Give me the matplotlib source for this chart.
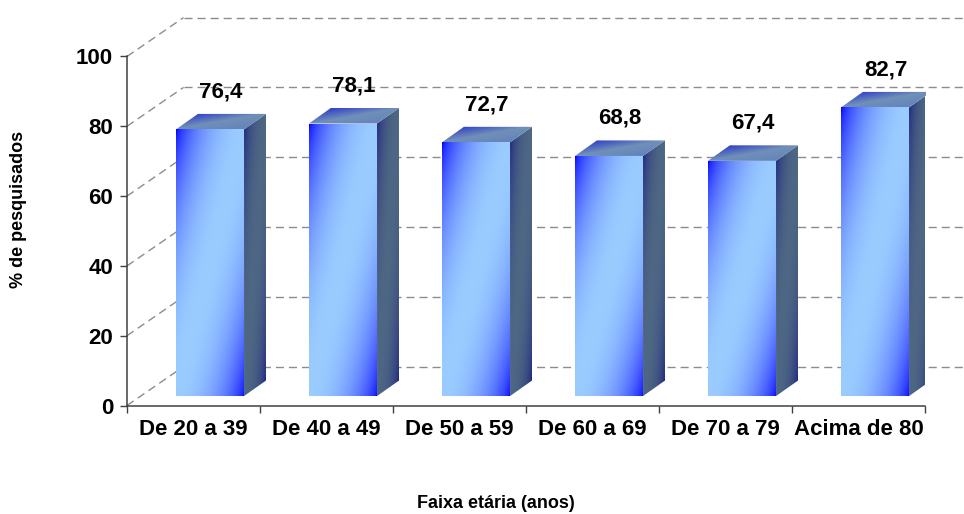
import numpy as np
import matplotlib
matplotlib.use("Agg")
import matplotlib.pyplot as plt
from matplotlib.colors import LinearSegmentedColormap, to_rgb
from matplotlib.patches import Polygon

# ---- data -------------------------------------------------------------
categories = ["De 20 a 39", "De 40 a 49", "De 50 a 59",
              "De 60 a 69", "De 70 a 79", "Acima de 80"]
values = [76.4, 78.1, 72.7, 68.8, 67.4, 82.7]
y_ticks = [0, 20, 40, 60, 80, 100]
y_title = "% de pesquisados"
x_title = "Faixa etária (anos)"

# ---- pseudo-3D geometry (data units) ------------------------------------
WALL_DX, WALL_DY = 0.425, 11.15      # offset of the back wall
BAR_X0, BAR_W = 0.368, 0.512        # bar front face inside a category slot
BAR_BASE = 2.7                      # front face raised by its depth
SIDE_DX, SIDE_DY = 0.165, 4.45      # bar depth

plt.rcParams["font.family"] = ["Liberation Sans", "DejaVu Sans"]
plt.rcParams["lines.scale_dashes"] = False

fig = plt.figure(figsize=(9.64, 5.14), dpi=100)
ax = fig.add_axes([127 / 964, (514 - 405.5) / 514, 798 / 964, 349 / 514])
ax.set_facecolor("none")


def mirrored_cmap(name, edge, mid, power):
    """Edge colour at both ends, centre colour in the middle, eased."""
    e, m = np.array(to_rgb(edge)), np.array(to_rgb(mid))
    ts = np.linspace(0, 1, 65)
    f = np.sin(np.pi * ts) ** power
    cols = [tuple(e + (m - e) * k) for k in f]
    return LinearSegmentedColormap.from_list(name, list(zip(ts, cols)))


front_cmap = mirrored_cmap("front", "#0000ff", "#9accff", 0.6)
side_cmap = mirrored_cmap("side", "#161c80", "#4e6784", 0.5)
top_cmap = LinearSegmentedColormap.from_list("top", [
    (0.0, "#2f3fc8"), (0.5, "#7090b8"), (1.0, "#6383bb")])


def shaded_face(p0, eu, ev, cmap, z):
    """Fill the parallelogram p0 + a*eu + b*ev with a diagonal gradient."""
    p0, eu, ev = map(np.asarray, (p0, eu, ev))
    corners = np.array([p0, p0 + eu, p0 + eu + ev, p0 + ev])
    xmin, ymin = corners.min(axis=0)
    xmax, ymax = corners.max(axis=0)
    n = 220
    gx, gy = np.meshgrid(np.linspace(xmin, xmax, n), np.linspace(ymin, ymax, n))
    m = np.array([[eu[0], ev[0]], [eu[1], ev[1]]])
    inv = np.linalg.inv(m)
    dx, dy = gx - p0[0], gy - p0[1]
    a = np.clip(inv[0, 0] * dx + inv[0, 1] * dy, 0, 1)
    b = np.clip(inv[1, 0] * dx + inv[1, 1] * dy, 0, 1)
    t = (a + (1 - b)) / 2
    rgb = cmap(t)
    im = ax.imshow(rgb, extent=(xmin, xmax, ymin, ymax), origin="lower",
                   aspect="auto", interpolation="bilinear", zorder=z)
    clip = Polygon(corners, closed=True, transform=ax.transData)
    im.set_clip_path(clip)
    im.set_clip_box(None)


# ---- back wall / side wall dashed grid ---------------------------------
grid_kw = dict(color="#8c8c8c", lw=1.0, ls=(0, (5.8, 3.6)), clip_on=False,
               zorder=1)
for v in y_ticks:
    ax.plot([WALL_DX, 6.4], [v + WALL_DY, v + WALL_DY], **grid_kw)
    ax.plot([0, WALL_DX], [v, v + WALL_DY], **grid_kw)

# ---- bars --------------------------------------------------------------
for i, v in enumerate(values):
    x0 = i + BAR_X0
    y0 = BAR_BASE
    shaded_face((x0, y0), (BAR_W, 0), (0, v), front_cmap, 3)
    shaded_face((x0 + BAR_W, y0), (SIDE_DX, SIDE_DY), (0, v), side_cmap, 3)
    shaded_face((x0, y0 + v), (BAR_W, 0), (SIDE_DX, SIDE_DY), top_cmap, 3)
    ax.text(x0 + BAR_W / 2 + SIDE_DX / 2, y0 + v + SIDE_DY + 6.3,
            f"{v:.1f}".replace(".", ","), ha="center", va="center",
            fontsize=16, fontweight="bold", color="black", zorder=5)

# ---- axes --------------------------------------------------------------
ax.set_xlim(0, len(categories))
ax.set_ylim(0, 100)
for s in ("top", "right"):
    ax.spines[s].set_visible(False)
for s in ("left", "bottom"):
    ax.spines[s].set_color("#404040")
    ax.spines[s].set_linewidth(1.1)
    ax.spines[s].set_zorder(6)

ax.set_yticks(y_ticks)
ax.set_yticklabels([str(t) for t in y_ticks], fontsize=16, fontweight="bold")
ax.tick_params(axis="y", direction="out", length=5, width=1.0,
               color="#404040", pad=5)

ax.set_xticks(np.arange(len(categories) + 1))
ax.set_xticklabels([])
ax.set_xticks(np.arange(len(categories)) + 0.5, minor=True)
ax.set_xticklabels(categories, minor=True, fontsize=16, fontweight="bold")
ax.tick_params(axis="x", which="major", direction="out", length=5, width=1.0,
               color="#404040")
ax.tick_params(axis="x", which="minor", length=0, pad=10)

fig.text(18.5 / 964, 1 - 209 / 514, y_title, rotation=90, ha="center",
         va="center", fontsize=13, fontweight="bold")
fig.text(496 / 964, 1 - 503 / 514, x_title, ha="center", va="center",
         fontsize=13, fontweight="bold")

fig.savefig("out.png", dpi=100, facecolor="white")
